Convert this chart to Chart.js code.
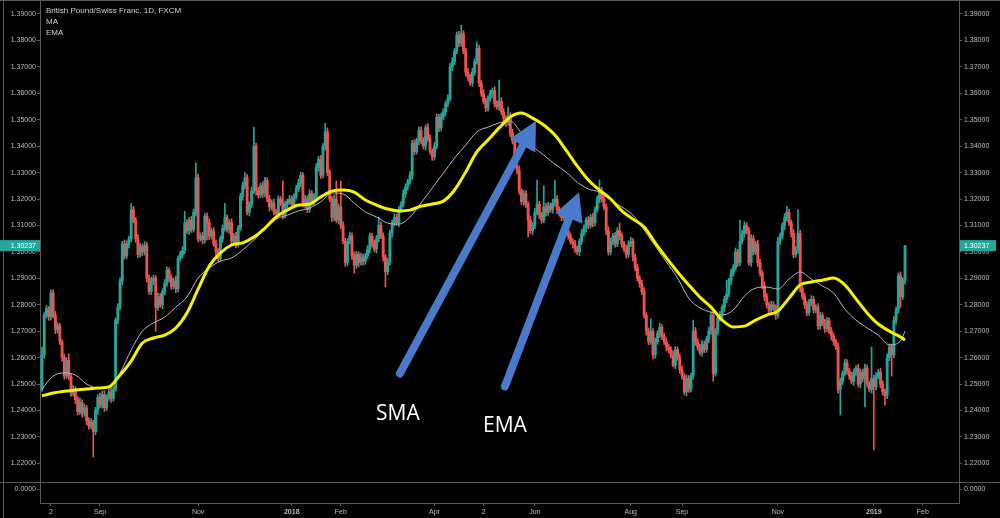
<!DOCTYPE html>
<html><head><meta charset="utf-8">
<script src="https://cdn.jsdelivr.net/npm/chart.js@4.4.1/dist/chart.umd.min.js"></script>
<style>html,body{margin:0;padding:0;background:#000;overflow:hidden}canvas{display:block}</style>
</head><body>
<canvas id="c" width="1000" height="518"></canvas>
<script>
// ---------------- DATA ----------------
const firstOpenPips = 12478;
// daily closes in pips (price x 10000), bar index 0 = first bar
const closesPips = [
12610,12760,12785,12755,12845,12760,12705,12720,12660,12600,
12530,12590,12530,12465,12480,12440,12395,12430,12390,12410,
12360,12340,12355,12320,12400,12450,12420,12460,12410,12450,
12470,12445,12480,12740,12790,12890,13030,12985,13030,13050,
13160,13120,13050,12990,13020,13000,13025,12900,12850,12890,
12900,12790,12830,12800,12850,12880,12930,12900,12870,12890,
12860,12975,12990,13005,13110,13080,13120,13085,13150,13280,
13050,13060,13045,13135,13110,13060,13080,13030,13000,12975,
13050,13090,13130,13085,13110,13040,13060,13030,13090,13210,
13250,13280,13150,13180,13230,13400,13230,13215,13250,13220,
13270,13200,13170,13185,13150,13145,13200,13185,13140,13180,
13190,13200,13180,13210,13240,13260,13290,13180,13200,13160,
13220,13190,13210,13320,13350,13290,13400,13455,13300,13200,
13130,13200,13120,13170,13100,13040,12960,13040,13060,12985,
12950,12990,12960,12980,12965,12985,13010,13060,13030,13010,
13050,13100,13060,12980,12925,12960,13070,13110,13130,13110,
13160,13180,13220,13245,13265,13290,13410,13380,13420,13460,
13420,13400,13470,13430,13380,13360,13400,13510,13470,13510,
13530,13560,13580,13700,13720,13760,13820,13790,13825,13760,
13680,13660,13640,13680,13720,13770,13640,13600,13570,13545,
13580,13600,13610,13560,13550,13570,13530,13505,13490,13515,
13450,13420,13330,13310,13230,13190,13220,13180,13120,13080,
13100,13150,13180,13140,13120,13170,13150,13175,13160,13185,
13200,13160,13150,13130,13140,13080,13060,13040,13030,13010,
13000,13040,13070,13090,13120,13100,13130,13110,13160,13200,
13230,13200,13170,13080,13000,13040,13060,13030,13080,13060,
13030,13010,12990,13030,13040,12980,12940,12900,12880,12850,
12760,12700,12660,12700,12610,12660,12690,12715,12680,12660,
12640,12630,12610,12570,12630,12600,12555,12530,12470,12520,
12480,12530,12700,12660,12640,12620,12650,12630,12670,12700,
12760,12540,12700,12750,12760,12790,12820,12840,12890,12920,
12940,13000,12960,13040,13070,13100,13080,12960,13050,13000,
13030,12960,12920,12870,12830,12800,12780,12800,12790,12760,
13040,13060,13100,13130,13150,13110,13070,12990,13010,13070,
12860,12830,12800,12770,12810,12820,12780,12790,12720,12760,
12730,12710,12740,12700,12680,12660,12640,12480,12510,12540,
12580,12550,12530,12510,12545,12560,12500,12545,12520,12560,
12500,12480,12520,12490,12530,12545,12500,12470,12455,12600,
12640,12610,12740,12780,12910,12830,12890,13023.7
];
// wick above the body, pips
const upperWickPips = [
30,10,12,8,10,11,15,12,10,8, 12,10,24,8,14,10,12,18,10,15,
10,12,15,8,12,10,16,12,14,10, 12,15,10,10,14,12,10,15,12,10,
23,12,10,15,12,10,14,10,12,15, 12,10,14,12,10,15,12,10,14,12,
18,10,12,15,43,12,10,15,12,56, 14,12,15,10,12,14,10,12,15,12,
10,12,54,10,12,15,10,14,10,12, 14,20,12,10,15,72,12,14,10,15,
12,10,14,12,15,10,12,10,83,12, 10,14,12,10,12,15,12,10,14,12,
15,12,10,14,12,15,10,32,14,12, 10,15,68,12,98,14,12,10,15,12,
14,12,10,15,12,10,14,12,10,15, 12,32,14,12,10,15,12,10,14,12,
12,10,15,12,10,14,12,15,10,12, 14,12,10,15,12,10,14,12,10,15,
12,10,14,12,15,10,12,14,33,12, 10,14,12,15,10,24,12,10,14,12,
10,12,10,15,12,80,14,12,10,33, 12,14,10,12,15,10,14,12,10,15,
12,14,92,12,10,80,14,12,10,15, 72,12,10,14,12,10,15,12,10,14,
12,10,15,12,10,14,12,15,10,12, 42,14,12,10,15,12,10,14,12,29,
12,10,14,12,15,10,12,14,10,12, 15,10,12,47,10,14,12,16,10,12,
14,10,12,15,12,10,14,12,10,15, 12,10,42,14,12,10,15,12,10,14,
12,15,10,12,14,10,12,53,10,14, 12,15,10,80,12,14,10,12,15,12,
10,14,12,10,15,12,10,14,12,10, 15,12,10,14,22,12,10,15,12,90,
12,10,14,12,10,15,12,10,14,12, 10,15,12,10,14,12,10,15,12,10,
14,12,10,15,12,10,14,12,10,15, 12,10,120,14,12,10,15,12,10,14,
12,10,15,12,10,14,12,0
];
// wick below the body, pips
const lowerWickPips = [
5,12,10,14,12,10,15,12,10,14, 12,10,15,12,10,14,12,10,15,12,
14,12,10,96,12,15,10,12,14,10, 12,15,10,8,12,10,14,12,10,15,
12,10,14,12,10,15,12,14,10,12, 14,90,12,10,15,12,10,14,12,10,
15,12,10,14,12,10,15,12,10,14, 12,10,15,12,65,14,12,10,15,12,
10,14,12,10,15,12,10,14,12,10, 15,12,10,14,12,10,15,12,10,14,
12,10,15,12,10,14,12,10,15,12, 14,10,12,15,10,12,14,10,15,12,
10,14,12,10,15,12,10,14,12,10, 15,12,10,14,12,10,15,12,10,14,
30,12,17,10,14,12,10,15,12,10, 14,12,10,15,58,12,10,14,12,10,
15,12,10,14,12,10,15,12,10,14, 12,10,15,12,10,14,12,10,15,12,
10,14,12,10,15,12,10,14,12,10, 15,12,10,14,12,10,15,12,10,14,
12,10,15,12,10,14,12,10,15,12, 14,12,10,15,12,10,14,12,63,10,
15,12,10,14,12,10,15,12,10,14, 12,10,15,12,10,14,12,10,15,12,
10,15,12,10,14,12,10,15,12,10, 14,12,10,15,12,10,14,12,10,15,
12,10,14,12,10,15,12,10,14,12, 10,15,12,10,15,12,10,14,12,10,
15,12,10,5,12,10,14,12,10,15, 12,10,12,14,12,10,15,12,10,14,
12,30,10,14,12,10,15,12,10,14, 12,10,15,12,10,14,12,10,15,12,
10,14,12,10,15,12,10,14,12,15, 10,12,10,15,12,10,14,12,10,15,
12,10,14,12,10,15,12,10,14,12, 10,15,12,10,14,12,10,15,97,12,
10,14,12,10,15,12,10,14,12,107, 12,10,15,240,12,10,14,12,35,10,
12,80,10,14,12,40,10,12
];
// moving-average lines, sampled at these bar indices
const lineBars = [0,5,10,15,20,25,30,35,40,45,50,55,60,65,70,75,80,85,90,95,100,105,110,115,120,125,130,135,140,145,150,155,160,165,170,175,180,185,190,195,200,205,210,215,220,225,230,235,240,245,250,255,260,265,270,275,280,285,290,295,300,305,310,315,320,325,330,335,340,345,350,355,360,365,370,375,380,385,387];
const maValues = [
1.2455,1.2466,1.2473,1.2477,1.2481,1.2485,1.2489,1.2534,1.2587,1.2655,
1.2674,1.2685,1.2712,1.2769,1.2859,1.2946,1.2996,1.3026,1.3034,1.3056,
1.3090,1.3132,1.3158,1.3177,1.3181,1.3208,1.3230,1.3234,1.3226,1.3196,
1.3177,1.3162,1.3155,1.3158,1.3173,1.3181,1.3192,1.3234,1.3302,1.3378,
1.3423,1.3469,1.3510,1.3525,1.3506,1.3480,1.3442,1.3385,1.3325,1.3272,
1.3234,1.3200,1.3155,1.3124,1.3094,1.3034,1.2977,1.2924,1.2875,1.2829,
1.2791,1.2742,1.2716,1.2719,1.2742,1.2761,1.2776,1.2825,1.2875,1.2886,
1.2893,1.2901,1.2875,1.2822,1.2769,1.2727,1.2700,1.2678,1.2666];
const emaValues = [
1.2481,1.2530,1.2542,1.2534,1.2500,1.2485,1.2485,1.2542,1.2629,1.2700,
1.2731,1.2753,1.2791,1.2829,1.2901,1.2939,1.2965,1.2977,1.3007,1.3045,
1.3086,1.3124,1.3139,1.3155,1.3166,1.3189,1.3223,1.3219,1.3185,1.3151,
1.3132,1.3109,1.3105,1.3132,1.3185,1.3242,1.3298,1.3355,1.3404,1.3454,
1.3472,1.3488,1.3495,1.3450,1.3401,1.3366,1.3332,1.3302,1.3264,1.3238,
1.3226,1.3196,1.3170,1.3139,1.3083,1.3022,1.2962,1.2901,1.2825,1.2788,
1.2772,1.2761,1.2780,1.2833,1.2863,1.2867,1.2859,1.2897,1.2924,1.2897,
1.2871,1.2844,1.2784,1.2742,1.2712,1.2685,1.2648,1.2663,1.2700];
const xTickBars = [4,26,70,112,134,176,198,221,264,287,330,373,395];
const xTickLabels = ['2','Sep','Nov','2018','Feb','Apr','2','Jun','Aug','Sep','Nov','2019','Feb'];
const yTickValues = [1.22,1.23,1.24,1.25,1.26,1.27,1.28,1.29,1.30,1.31,1.32,1.33,1.34,1.35,1.36,1.37,1.38,1.39];
const lastPrice = 1.30237;
const titleLines = ['British Pound/Swiss Franc, 1D, FXCM','MA','EMA'];
// annotations in data coordinates (bar index, price)
const arrowNotes = [
  {label:'SMA', from:[160.5,1.2540], to:[221.5,1.3495], text:[159.6,1.2386]},
  {label:'EMA', from:[207.6,1.2491], to:[240.8,1.3226], text:[207.6,1.2341]}
];

// ---------------- BUILD ----------------
const TEAL = '#26a69a', RED = '#ef5350';
const closes = closesPips.map(p => p / 10000);
const opens = closes.map((c, i) => i === 0 ? firstOpenPips / 10000 : closes[i - 1]);
const highs = closes.map((c, i) => Math.max(opens[i], c) + upperWickPips[i] / 10000);
const lows = closes.map((c, i) => Math.min(opens[i], c) - lowerWickPips[i] / 10000);
const rising = closes.map((c, i) => c >= opens[i]);
const bodyData = closes.map((c, i) => ({x: i, y: [opens[i], c]}));
const wickData = closes.map((c, i) => ({x: i, y: [lows[i], highs[i]]}));

const PPU = 2643;           // pixels per 1.0 price unit
const yMax = 1.39 + 14 / PPU, yMin = 1.39 - 489 / PPU;
const xMin = -2 / 2.23, xMax = 917 / 2.23;
const AX = '#5a5a5a', TXT = '#bdbdbd';
Chart.defaults.font.family = "'Liberation Sans', Arial, sans-serif";

function fixFit(w, h) {
  return s => {
    if (w !== null) s.width = w;
    if (h !== null) s.height = h;
    s.paddingTop = 0; s.paddingBottom = 0; s.paddingLeft = 0; s.paddingRight = 0;
  };
}

const decor = {
  id: 'decor',
  beforeDraw(chart) {
    const c = chart.ctx;
    c.save(); c.fillStyle = '#000'; c.fillRect(0, 0, chart.width, chart.height); c.restore();
  },
  afterDatasetsDraw(chart) {
    const c = chart.ctx, xs = chart.scales.x, ys = chart.scales.y;
    c.save();
    for (const a of arrowNotes) {
      const x1 = xs.getPixelForValue(a.from[0]), y1 = ys.getPixelForValue(a.from[1]);
      const x2 = xs.getPixelForValue(a.to[0]), y2 = ys.getPixelForValue(a.to[1]);
      const dx = x2 - x1, dy = y2 - y1, L = Math.hypot(dx, dy), ux = dx / L, uy = dy / L;
      const hl = 28, hw = 14.5;
      const bx = x2 - ux * hl, by = y2 - uy * hl;
      c.strokeStyle = '#4a7acc'; c.fillStyle = '#4a7acc';
      c.lineWidth = 8; c.lineCap = 'round';
      c.beginPath(); c.moveTo(x1, y1); c.lineTo(bx + ux * 3, by + uy * 3); c.stroke();
      c.beginPath(); c.moveTo(x2, y2);
      c.lineTo(bx - uy * hw, by + ux * hw); c.lineTo(bx + uy * hw, by - ux * hw);
      c.closePath(); c.fill();
      c.fillStyle = '#ffffff';
      c.font = "21px 'Open Sans', sans-serif";
      c.textAlign = 'center'; c.textBaseline = 'middle';
      c.fillText(a.label, xs.getPixelForValue(a.text[0]), ys.getPixelForValue(a.text[1]));
    }
    c.restore();
  },
  afterDraw(chart) {
    const c = chart.ctx, ys = chart.scales.y, area = chart.chartArea;
    c.save();
    c.strokeStyle = AX; c.lineWidth = 1;
    const ln = (a, b, d, e) => { c.beginPath(); c.moveTo(a, b); c.lineTo(d, e); c.stroke(); };
    ln(0, 0.5, chart.width, 0.5);
    ln(3.5, 0, 3.5, chart.height);
    ln(0, 482.5, chart.width, 482.5);
    // sub-pane zero labels
    ln(area.left - 3, 489.5, area.left, 489.5);
    ln(area.right, 489.5, area.right + 3, 489.5);
    c.fillStyle = TXT; c.font = "7px 'Liberation Sans', Arial, sans-serif";
    c.textBaseline = 'middle';
    c.textAlign = 'right'; c.fillText('0.0000', area.left - 4, 489.5);
    c.textAlign = 'left'; c.fillText('0.0000', area.right + 5, 489.5);
    // last price boxes
    const py = ys.getPixelForValue(lastPrice);
    c.fillStyle = TEAL;
    c.fillRect(0, py - 5.5, area.left, 11);
    c.fillRect(area.right + 1, py - 5.5, 36, 11);
    c.fillStyle = '#ffffff';
    c.textAlign = 'right'; c.fillText(lastPrice.toFixed(5), area.left - 4, py);
    c.textAlign = 'left'; c.fillText(lastPrice.toFixed(5), area.right + 5, py);
    // title / study names
    c.fillStyle = '#d0d0d0'; c.font = "8px 'Liberation Sans', Arial, sans-serif";
    c.textAlign = 'left';
    titleLines.forEach((t, i) => c.fillText(t, 46, 10.5 + i * 11.3));
    c.restore();
  }
};

new Chart(document.getElementById('c'), {
  type: 'bar',
  data: {
    datasets: [
      {type: 'line', label: 'MA', data: lineBars.map((b, i) => ({x: b, y: maValues[i]})),
       borderColor: '#f4f400', borderWidth: 3, pointRadius: 0, cubicInterpolationMode: 'monotone', order: 0},
      {type: 'line', label: 'EMA', data: lineBars.map((b, i) => ({x: b, y: emaValues[i]})),
       borderColor: '#b8b8b8', borderWidth: 1, pointRadius: 0, cubicInterpolationMode: 'monotone', order: 1},
      {label: 'body', data: bodyData, backgroundColor: rising.map(r => r ? TEAL : RED),
       barThickness: 2.2, grouped: false, minBarLength: 1, order: 2},
      {label: 'wick', data: wickData, backgroundColor: rising.map(r => r ? TEAL : RED),
       barThickness: 1, grouped: false, order: 3}
    ]
  },
  options: {
    responsive: false, animation: false, devicePixelRatio: 1,
    layout: {padding: 0},
    plugins: {legend: {display: false}, tooltip: {enabled: false}},
    scales: {
      x: {
        type: 'linear', min: xMin, max: xMax, offset: false,
        grid: {display: true, drawOnChartArea: false, drawTicks: true, tickLength: 3, color: AX, offset: false},
        border: {display: true, color: AX},
        afterBuildTicks: s => { s.ticks = xTickBars.map(v => ({value: v})); },
        afterFit: fixFit(null, 15),
        ticks: {
          autoSkip: false, maxRotation: 0, minRotation: 0, padding: 2, color: TXT,
          font: ctx => ({size: 7, weight: (ctx.tick && String(ctx.tick.label).length === 4) ? 'bold' : 'normal'}),
          callback: (v, i) => xTickLabels[i]
        }
      },
      y: {
        position: 'left', min: yMin, max: yMax,
        grid: {display: true, drawOnChartArea: false, drawTicks: true, tickLength: 3, color: AX},
        border: {display: true, color: AX},
        afterBuildTicks: s => { s.ticks = yTickValues.map(v => ({value: v})); },
        afterFit: fixFit(40, null),
        ticks: {padding: 1, color: TXT, font: {size: 7}, callback: v => Number(v).toFixed(5)}
      },
      y2: {
        position: 'right', min: yMin, max: yMax,
        grid: {display: true, drawOnChartArea: false, drawTicks: true, tickLength: 3, color: AX},
        border: {display: true, color: AX},
        afterBuildTicks: s => { s.ticks = yTickValues.map(v => ({value: v})); },
        afterFit: fixFit(41, null),
        ticks: {padding: 2, color: TXT, font: {size: 7}, callback: v => Number(v).toFixed(5)}
      }
    }
  },
  plugins: [decor]
});
</script>
</body></html>
